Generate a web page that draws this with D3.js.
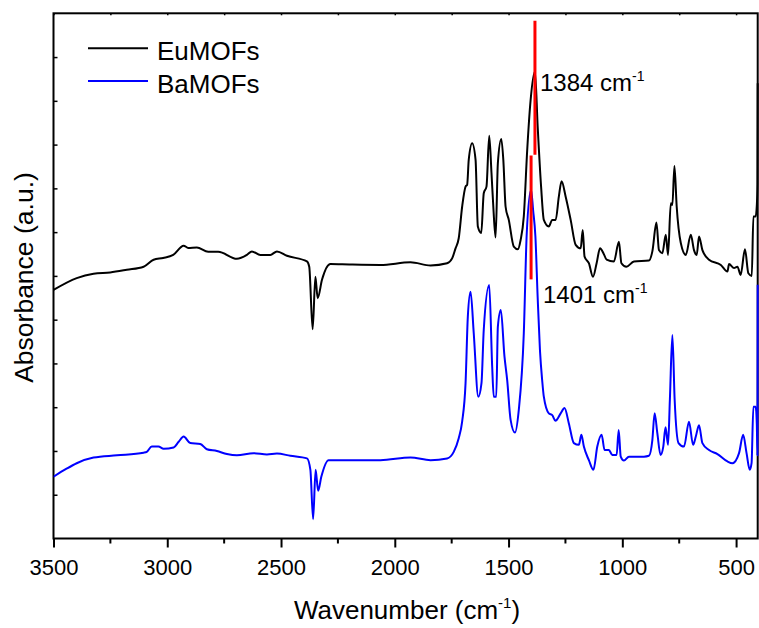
<!DOCTYPE html>
<html>
<head>
<meta charset="utf-8">
<script src="https://cdn.jsdelivr.net/npm/d3@7/dist/d3.min.js"></script>
<style>
  html, body { margin: 0; padding: 0; background: #fff; }
  svg { display: block; font-family: "Liberation Sans", Arial, Helvetica, sans-serif; }
</style>
</head>
<body>
<svg id="chart" width="759" height="628"></svg>
<script>
// FTIR spectra of EuMOFs and BaMOFs (absorbance, arbitrary units, offset for clarity)
const euWavenumber = [3500,3398,3324,3251,3178,3104,3060,3018,2974,2928,2908,2870,2820,2776,2694,2650,2628,2591,2547,2518,2474,2386,2376,2361,2349,2339,2320,2283,2200,2063,1931,1843,1770,1748,1733,1719,1704,1689,1682,1675,1660,1645,1635,1620,1609,1597,1585,1575,1567,1557,1547,1532,1523,1513,1499,1477,1459,1447,1433,1418,1403,1384,1372,1357,1345,1323,1308,1293,1279,1267,1249,1227,1205,1183,1174,1166,1147,1129,1113,1098,1083,1069,1037,1015,1004,982,949,883,868,850,839,824,809,799,787,780,771,761,743,721,699,685,673,663,648,619,567,538,531,509,494,480,461,446,431,424,414,409,406,405];
const euAbsorbance = [5.68,5.95,6.05,6.08,6.14,6.21,6.37,6.41,6.48,6.69,6.64,6.65,6.55,6.55,6.39,6.48,6.56,6.48,6.48,6.56,6.46,6.33,6.21,4.78,5.98,5.49,5.91,6.27,6.26,6.25,6.31,6.24,6.29,6.40,6.63,6.86,7.58,8.04,8.08,8.65,9.03,8.65,7.13,6.98,7.89,8.04,9.20,8.35,7.58,6.88,8.58,9.13,8.65,7.58,7.28,6.67,6.61,6.82,7.36,8.88,10.02,10.67,9.41,8.04,7.28,7.13,7.28,7.28,7.81,8.16,7.81,7.28,6.71,6.63,7.05,6.44,6.29,5.98,6.29,6.63,6.52,6.37,6.33,6.78,6.29,6.21,6.33,6.35,6.56,7.22,6.59,6.52,6.94,6.48,7.66,7.62,8.51,7.58,6.75,6.48,6.94,6.59,6.48,6.90,6.59,6.37,6.25,6.10,6.27,6.18,6.21,6.02,6.61,6.06,6.00,7.36,7.36,7.60,8.10,10.40];

const baWavenumber = [3500,3441,3398,3324,3221,3104,3090,3068,3039,3016,2972,2950,2928,2899,2855,2826,2782,2738,2694,2621,2562,2518,2459,2386,2371,2359,2348,2337,2323,2291,2063,1931,1843,1770,1741,1719,1704,1689,1679,1667,1653,1633,1619,1609,1585,1572,1565,1554,1547,1534,1518,1506,1491,1472,1455,1433,1420,1401,1392,1382,1372,1362,1352,1345,1323,1308,1294,1271,1254,1235,1213,1191,1180,1169,1147,1127,1110,1091,1078,1059,1044,1025,1016,1007,993,971,905,883,868,858,846,832,820,810,799,791,780,770,753,729,707,689,677,663,648,619,582,538,516,487,469,454,440,432,424,414,409,406,405];
const baAbsorbance = [1.41,1.60,1.72,1.85,1.90,1.96,1.98,2.10,2.10,2.05,2.08,2.21,2.33,2.18,2.16,2.04,2.00,1.93,1.90,1.95,1.92,1.94,1.89,1.83,1.57,0.44,1.57,1.09,1.41,1.79,1.79,1.85,1.79,1.83,1.98,2.29,2.67,3.55,5.07,5.64,4.69,3.24,3.55,4.77,5.79,3.93,3.24,3.24,4.84,5.22,4.16,3.62,2.71,2.42,2.94,4.69,6.98,7.97,7.50,6.90,5.50,4.30,3.60,3.24,2.86,2.82,2.69,2.86,2.98,2.63,2.18,2.14,2.37,2.10,1.79,1.57,2.10,2.37,2.02,2.02,1.91,1.91,2.48,1.87,1.78,1.87,1.87,1.89,2.25,2.86,2.40,1.91,2.10,2.54,2.14,3.17,4.65,3.17,2.18,2.10,2.67,2.14,2.33,2.59,2.18,2.02,1.93,1.76,1.72,1.95,2.37,1.95,1.57,1.72,3.01,3.01,2.63,1.90,5.80];

const seriesNames = ["EuMOFs", "BaMOFs"];
const seriesColors = ["#000000", "#0000ff"];

// marker bars for the assigned carboxylate bands: [wavenumber, from, to]
const bandWavenumber = [1384, 1401];
const bandFrom = [8.77, 5.92];
const bandTo = [11.83, 8.75];
const bandLabels = ["1384", "1401"];

const xTicksMajor = [3500, 3000, 2500, 2000, 1500, 1000, 500];
const xTicksMinor = [3250, 2750, 2250, 1750, 1250, 750];
const yTicks = [1,2,3,4,5,6,7,8,9,10,11];

const svg = d3.select("#chart");
const margin = { left: 53.5, right: 1.3, top: 13.3, bottom: 89.5 };
const W = 759, H = 628;
const x = d3.scaleLinear().domain([3500, 405]).range([margin.left, W - margin.right]);
const y = d3.scaleLinear().domain([0, 12]).range([H - margin.bottom, margin.top]);

// frame first, so the spectra sit on top of it
svg.append("rect").attr("x", margin.left).attr("y", margin.top)
  .attr("width", W - margin.right - margin.left).attr("height", H - margin.bottom - margin.top)
  .attr("fill", "none").attr("stroke", "#000").attr("stroke-width", 2);

svg.append("defs").append("clipPath").attr("id", "plotclip")
  .append("rect").attr("x", margin.left).attr("y", margin.top)
  .attr("width", W - margin.left).attr("height", H - margin.bottom - margin.top);

const plot = svg.append("g").attr("clip-path", "url(#plotclip)");

const line = d3.line().x(d => x(d[0])).y(d => y(d[1])).curve(d3.curveMonotoneX);
const spectra = [
  d3.zip(euWavenumber, euAbsorbance),
  d3.zip(baWavenumber, baAbsorbance)
];
spectra.forEach((s, i) => {
  plot.append("path").datum(s).attr("d", line)
    .attr("fill", "none").attr("stroke", seriesColors[i])
    .attr("stroke-width", 2).attr("stroke-linejoin", "round");
});

// red band markers
bandWavenumber.forEach((w, i) => {
  plot.append("line")
    .attr("x1", x(w)).attr("x2", x(w))
    .attr("y1", y(bandFrom[i])).attr("y2", y(bandTo[i]))
    .attr("stroke", "#ff0000").attr("stroke-width", 3);
});

// axes
const xAxis = d3.axisBottom(x).tickValues(xTicksMajor).tickSize(9).tickPadding(12).tickFormat(d3.format("d"));
const gx = svg.append("g").attr("transform", `translate(0,${H - margin.bottom})`).call(xAxis);
gx.selectAll(".tick line").attr("stroke-width", 2);
gx.selectAll(".tick text").attr("font-size", 22).attr("font-family", "Liberation Sans, Arial, sans-serif").attr("fill", "#000");
gx.select(".domain").remove();
gx.selectAll(".minor").data(xTicksMinor).enter().append("line")
  .attr("x1", d => x(d)).attr("x2", d => x(d)).attr("y1", 0).attr("y2", 5)
  .attr("stroke", "#000").attr("stroke-width", 2);

const xTop = d3.axisTop(x).tickValues(xTicksMajor.concat(xTicksMinor)).tickSize(-2).tickFormat("");
const gt = svg.append("g").attr("transform", `translate(0,${margin.top})`).call(xTop);
gt.select(".domain").remove();
gt.selectAll(".tick line").attr("stroke-width", 1.5);

const yAxis = d3.axisLeft(y).tickValues(yTicks).tickSize(-4).tickFormat("");
const gy = svg.append("g").attr("transform", `translate(${margin.left},0)`).call(yAxis);
gy.select(".domain").remove();
gy.selectAll(".tick line").attr("stroke-width", 1.5);

// axis titles
const xt = svg.append("text").attr("x", 407).attr("y", 619).attr("text-anchor", "middle")
  .attr("font-size", 26).attr("fill", "#000");
xt.append("tspan").text("Wavenumber (cm");
xt.append("tspan").attr("font-size", 15).attr("dy", -11).text("-1");
xt.append("tspan").attr("dy", 11).text(")");

svg.append("text").attr("transform", "translate(32.5,277.5) rotate(-90)")
  .attr("text-anchor", "middle").attr("font-size", 26.5).attr("fill", "#000")
  .text("Absorbance (a.u.)");

// legend
const legendY = [48.3, 81];
seriesNames.forEach((n, i) => {
  svg.append("line").attr("x1", 88).attr("x2", 148).attr("y1", legendY[i]).attr("y2", legendY[i])
    .attr("stroke", seriesColors[i]).attr("stroke-width", 2);
  svg.append("text").attr("x", 157).attr("y", legendY[i] + 11.5)
    .attr("font-size", 26).attr("fill", "#000").text(n);
});

// band annotations
const annPos = [[540, 90.5], [543, 302.5]];
bandLabels.forEach((t, i) => {
  const a = svg.append("text").attr("x", annPos[i][0]).attr("y", annPos[i][1])
    .attr("font-size", 24).attr("fill", "#000");
  a.append("tspan").text(t + " cm");
  a.append("tspan").attr("font-size", 14).attr("dy", -10).text("-1");
});
</script>
</body>
</html>
